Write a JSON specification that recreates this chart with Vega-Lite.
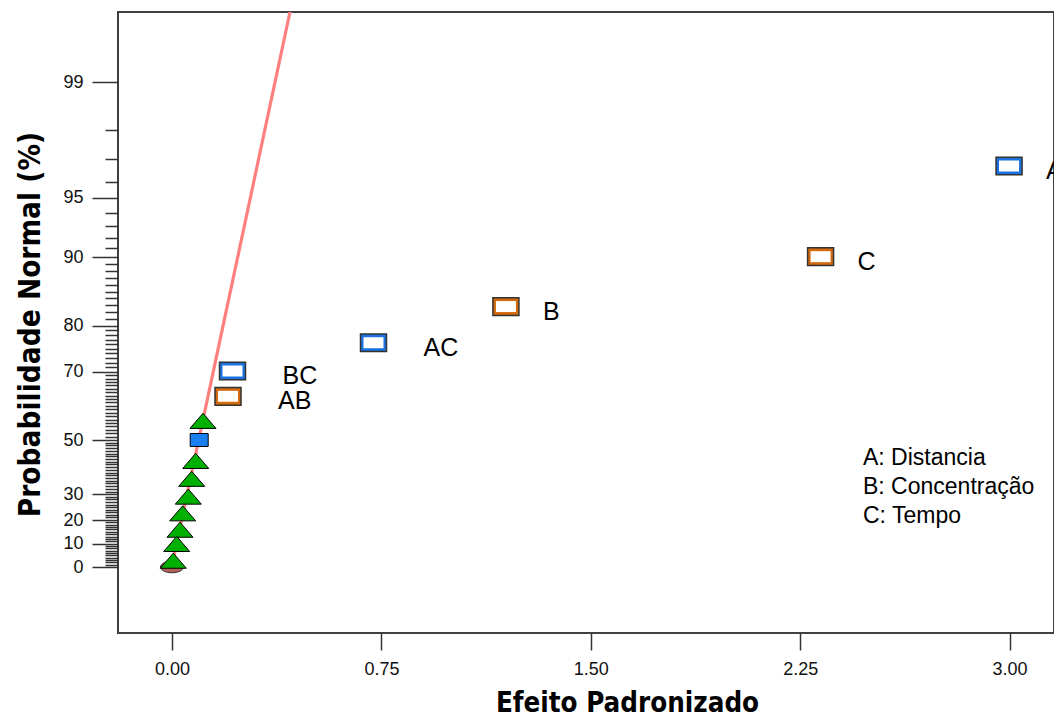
{
  "$schema": "https://vega.github.io/schema/vega-lite/v6.json",
  "width": 936,
  "height": 621,
  "autosize": {"type": "none"},
  "padding": {"left": 118, "top": 12, "right": 0, "bottom": 82},
  "background": "white",
  "config": {
    "view": {"stroke": "#404040", "strokeWidth": 2},
    "font": "Liberation Sans"
  },
  "datasets": {
    "effects": [
      {"term": "A", "effect": 2.998, "prob": 96.7, "sign": "neg", "factor": "A: Distancia"},
      {"term": "B", "effect": 1.196, "prob": 82.8, "sign": "pos", "factor": "B: Concentração"},
      {"term": "C", "effect": 2.323, "prob": 90.07, "sign": "pos", "factor": "C: Tempo"},
      {"term": "AB", "effect": 0.2006, "prob": 62.8, "sign": "pos"},
      {"term": "AC", "effect": 0.7217, "prob": 76.3, "sign": "neg"},
      {"term": "BC", "effect": 0.2167, "prob": 70.15, "sign": "neg"}
    ],
    "errors": [
      {"effect": 0.111, "prob": 55.6},
      {"effect": 0.085, "prob": 42.3},
      {"effect": 0.0706, "prob": 35.7},
      {"effect": 0.0584, "prob": 29.1},
      {"effect": 0.0383, "prob": 22.6},
      {"effect": 0.0287, "prob": 15.9},
      {"effect": 0.0168, "prob": 9.9},
      {"effect": 0.0047, "prob": 2.7}
    ],
    "center": [{"effect": 0.0974, "prob": 50}],
    "origin": [{"effect": 0, "prob": 0}],
    "fit": [
      {"effect": 0.003, "prob": 2.5},
      {"effect": 0.4226, "prob": 100}
    ]
  },
  "encoding": {
    "x": {
      "field": "effect",
      "type": "quantitative",
      "scale": {"domain": [-0.1934, 3.159], "nice": false, "zero": false},
      "axis": {
        "title": "Efeito Padronizado",
        "values": [0, 0.75, 1.5, 2.25, 3],
        "format": ".2f",
        "grid": false,
        "domain": false,
        "tickSize": 17,
        "tickColor": "#333333",
        "tickWidth": 1.5,
        "labelFont": "Liberation Sans",
        "labelFontSize": 18,
        "labelColor": "#111111",
        "labelPadding": 10,
        "labelFlush": false,
        "titleFont": "Liberation Sans Narrow, Arial Narrow, DejaVu Sans Condensed, sans-serif",
        "titleFontSize": 27.5,
        "titleFontWeight": "bold",
        "titleColor": "#000000",
        "titleX": 509,
        "titleY": 78,
        "titleAlign": "center",
        "titleBaseline": "alphabetic"
      }
    },
    "y": {
      "field": "prob",
      "type": "quantitative",
      "scale": {
        "domain": [-10, 0, 10, 20, 30, 50, 70, 80, 90, 91, 92, 93, 94, 95, 96, 97, 98, 99, 100],
        "range": [621, 555, 531.7, 508, 482.3, 428, 359.7, 313.7, 245.3, 236.3, 225.7, 213.7, 200.7, 185.7, 169.7, 147.3, 118, 70.3, 0],
        "nice": false,
        "zero": false
      },
      "axis": {
        "title": "Probabilidade Normal (%)",
        "values": [0,1,2,3,4,5,6,7,8,9,10,11,12,13,14,15,16,17,18,19,20,21,22,23,24,25,26,27,28,29,30,31,32,33,34,35,36,37,38,39,40,41,42,43,44,45,46,47,48,49,50,51,52,53,54,55,56,57,58,59,60,61,62,63,64,65,66,67,68,69,70,71,72,73,74,75,76,77,78,79,80,81,82,83,84,85,86,87,88,89,90,91,92,93,94,95,96,97,98,99],
        "labelExpr": "indexof([0,10,20,30,50,70,80,90,95,99], datum.value) >= 0 ? datum.label : ''",
        "tickSize": {"condition": {"test": "indexof([0,10,20,30,50,70,80,90,95,99], datum.value) >= 0", "value": 26}, "value": 13},
        "tickColor": "#333333",
        "tickWidth": 1.5,
        "grid": false,
        "domain": false,
        "labelFont": "Liberation Sans",
        "labelFontSize": 18,
        "labelColor": "#111111",
        "labelPadding": 9,
        "labelOverlap": false,
        "labelFlush": false,
        "labelBound": false,
        "titleFont": "Liberation Sans Narrow, Arial Narrow, DejaVu Sans Condensed, sans-serif",
        "titleFontSize": 29.5,
        "titleFontWeight": "bold",
        "titleColor": "#000000",
        "titleX": -88,
        "titleY": 312,
        "titleAngle": -90,
        "titleAlign": "center",
        "titleBaseline": "middle"
      }
    }
  },
  "layer": [
    {
      "data": {"name": "fit"},
      "mark": {"type": "line", "color": "#ff7f7f", "strokeWidth": 3.2, "clip": true},
      "encoding": {}
    },
    {
      "data": {"name": "origin"},
      "mark": {"type": "point", "shape": "M-1,0A1,0.5 0 1,0 1,0A1,0.5 0 1,0 -1,0Z", "size": 529, "filled": true, "fill": "#b0605a", "stroke": "#333333", "strokeWidth": 1, "opacity": 1},
      "encoding": {}
    },
    {
      "data": {"name": "errors"},
      "mark": {"type": "point", "shape": "M0,-0.58L1,0.58L-1,0.58Z", "size": 676, "filled": true, "fill": "#00b000", "stroke": "#000000", "strokeWidth": 1, "opacity": 1},
      "encoding": {}
    },
    {
      "data": {"name": "center"},
      "mark": {"type": "point", "shape": "M-1,-0.72H1V0.72H-1Z", "size": 324, "filled": true, "fill": "#1a7ff0", "stroke": "#000000", "strokeWidth": 1, "opacity": 1},
      "encoding": {}
    },
    {
      "data": {"name": "effects"},
      "mark": {"type": "point", "shape": "M-1,-0.68H1V0.68H-1Z", "size": 676, "filled": true, "stroke": "#333333", "strokeWidth": 1.5, "opacity": 1},
      "encoding": {
        "fill": {"field": "sign", "type": "nominal", "scale": {"domain": ["neg", "pos"], "range": ["#1a73e0", "#d2690c"]}, "legend": null}
      }
    },
    {
      "data": {"name": "effects"},
      "mark": {"type": "point", "shape": "M-1,-0.55H1V0.55H-1Z", "size": 400, "filled": true, "fill": "#ffffff", "strokeWidth": 0, "opacity": 1},
      "encoding": {}
    },
    {
      "data": {"name": "effects"},
      "mark": {"type": "text", "align": "left", "baseline": "middle", "dx": {"expr": "length(datum.term) > 1 ? 50 : 37"}, "dy": 5, "font": "Liberation Sans", "fontSize": 25, "color": "#000000"},
      "encoding": {"text": {"field": "term", "type": "nominal"}}
    },
    {
      "data": {"name": "effects"},
      "transform": [{"filter": "isValid(datum.factor)"}],
      "mark": {"type": "point", "opacity": 0},
      "encoding": {
        "shape": {
          "field": "factor",
          "type": "nominal",
          "legend": {
            "title": null,
            "orient": "none",
            "legendX": 722,
            "legendY": 434,
            "padding": 0,
            "labelFont": "Liberation Sans",
            "labelFontSize": 23,
            "labelColor": "#000000",
            "labelOffset": 0,
            "labelLimit": 0,
            "symbolSize": 0,
            "symbolOpacity": 0,
            "symbolStrokeWidth": 0,
            "rowPadding": 5
          }
        }
      }
    }
  ]
}
